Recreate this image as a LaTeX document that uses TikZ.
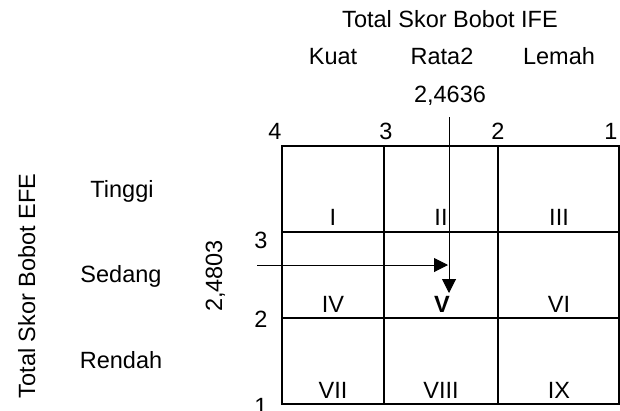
\documentclass[tikz,border=0pt]{standalone}
\usepackage{fontspec}
\setmainfont{Liberation Sans}
\usetikzlibrary{arrows.meta}

\begin{document}
\begin{tikzpicture}[x=1pt, y=-1pt,
    txt/.style={font=\fontsize{23.5}{28}\selectfont, inner sep=0pt, anchor=base},
    grid/.style={line width=1.2pt},
    arr/.style={-{Triangle[length=14pt,width=14pt]}, line width=1pt}
  ]
    \useasboundingbox (0,0) rectangle (620,410);
    % matriks IE
    \draw[grid] (282,146) rectangle (619,404);
    \draw[grid] (384,146) -- (384,404) (498,146) -- (498,404);
    \draw[grid] (282,232) -- (619,232) (282,318) -- (619,318);
    % sumbu IFE
    \node[txt] (ife) at (450,27) {Total Skor Bobot IFE};
    \node[txt] (kuat) at (333,64) {Kuat};
    \node[txt] (rata) at (442,64) {Rata2};
    \node[txt] (lemah) at (559,64) {Lemah};
    \node[txt] (ifeval) at (450,102) {2,4636};
    \foreach \n/\x in {4/275, 3/386, 2/498, 1/611}
      \node[txt] (ifenum\n) at (\x,139.5) {\n};
    % sumbu EFE
    \node[txt, rotate=90] (efe) at (35,286) {Total Skor Bobot EFE};
    \node[txt] (tinggi) at (122,197) {Tinggi};
    \node[txt] (sedang) at (121,282) {Sedang};
    \node[txt] (rendah) at (121,368) {Rendah};
    \node[txt, rotate=90] (efeval) at (222,276) {2,4803};
    \foreach \n/\y in {3/248, 2/327, 1/414}
      \node[txt] (efenum\n) at (261,\y) {\n};
    % sel
    \foreach \lab/\x/\y in {I/333/225, II/441/225, III/559/225, IV/333/312, VI/559/312, VII/333/398, VIII/441/398, IX/559/398}
      \node[txt] (cell\lab) at (\x,\y) {\lab};
    \node[txt] (cellV) at (442,312) {\bfseries V};
    % posisi
    \coordinate (ifetop) at (449,117);
    \coordinate (ifeend) at (449,293);
    \coordinate (efestart) at (257,265);
    \coordinate (efeend) at (448,265);
    \draw[arr] (ifetop) -- (ifeend);
    \draw[arr] (efestart) -- (efeend);
\end{tikzpicture}
\end{document}
